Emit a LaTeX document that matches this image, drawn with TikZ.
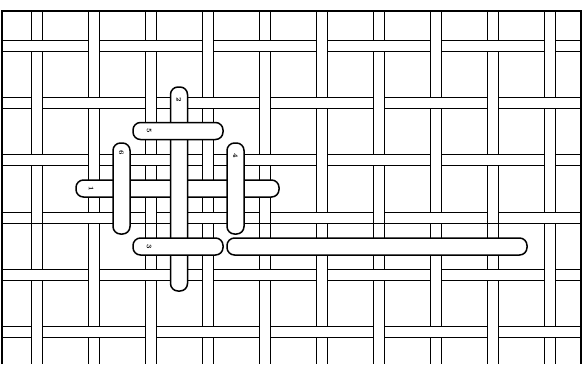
\documentclass[tikz,border=0pt]{standalone}
\usepackage{tikz}
\usetikzlibrary{positioning}

\begin{document}
\begin{tikzpicture}[
  x=1pt, y=-1pt,
  edge/.style={line width=0.8pt},
  frame/.style={line width=1.5pt},
  stitch/.style={rectangle, draw, fill=white, line width=1.5pt, rounded corners=7.5pt, minimum width=17pt, minimum height=17pt, inner sep=0pt},
  num/.style={font=\fontsize{7}{7}\selectfont\bfseries, rotate=-90, inner sep=0pt},
]
  \useasboundingbox (0,0) rectangle (585,364);

  % Vertical strips
  \foreach \i in {0,...,9} {
    \pgfmathsetmacro{\xl}{31+57*\i}
    \fill[white] (\xl,11) rectangle (\xl+11,364);
    \draw[edge] (\xl,11) -- (\xl,364) (\xl+11,11) -- (\xl+11,364);
  }

  % Horizontal strips
  \foreach \j in {0,...,5} {
    \pgfmathsetmacro{\yt}{40+57.3*\j}
    \fill[white] (2,\yt) rectangle (581,\yt+11);
    \draw[edge] (2,\yt) -- (581,\yt) (2,\yt+11) -- (581,\yt+11);
  }

  % Crossings where the vertical strip lies on top
  \foreach \i in {0,...,9} {
    \foreach \j in {0,...,5} {
      \pgfmathtruncatemacro{\odd}{mod(\i+\j,2)}
      \ifnum\odd=1
        \pgfmathsetmacro{\xl}{31+57*\i}
        \pgfmathsetmacro{\yt}{40+57.3*\j}
        \fill[white] (\xl,\yt-0.5) rectangle (\xl+11,\yt+11.5);
        \draw[edge] (\xl,\yt-0.5) -- (\xl,\yt+11.5) (\xl+11,\yt-0.5) -- (\xl+11,\yt+11.5);
      \fi
    }
  }

  % Frame
  \draw[frame] (2,364) -- (2,11) -- (581,11) -- (581,364);

  % Stitches, laid in order
  \node[stitch, minimum width=203pt] (s1) at (177.5,188.5) {};
  \node[stitch, minimum height=204pt] (s2) at (179,189) {};
  \node[stitch, minimum width=90pt] (s3) at (178,246.5) {};
  \node[stitch, minimum height=91pt] (s4) at (235.5,188.5) {};
  \node[stitch, minimum width=90pt] (s5) at (178,131) {};
  \node[stitch, minimum height=91pt] (s6) at (121.5,188.5) {};
  \node[stitch, minimum width=300pt] (s7) at (377,246.5) {};

  % Numbers
  \node[num] (n1) at ([xshift=16pt]s1.west) {1};
  \node[num] (n2) at ([yshift=-14pt]s2.north) {2};
  \node[num] (n3) at ([xshift=17pt]s3.west) {3};
  \node[num] (n4) at ([yshift=-14pt]s4.north) {4};
  \node[num] (n5) at ([xshift=17pt]s5.west) {5};
  \node[num] (n6) at ([yshift=-11pt]s6.north) {6};
\end{tikzpicture}
\end{document}
